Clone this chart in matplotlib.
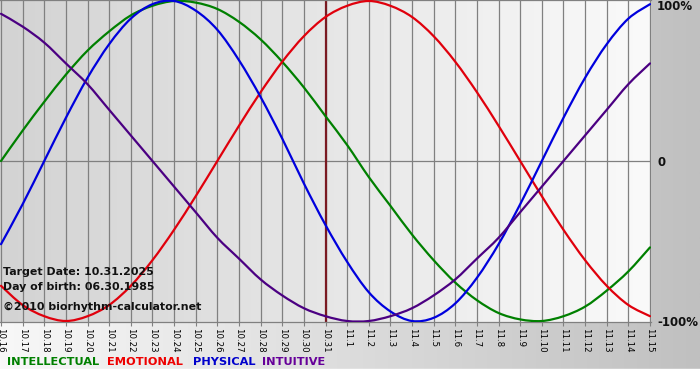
import numpy as np
import matplotlib
matplotlib.use("Agg")
import matplotlib.pyplot as plt
from matplotlib.colors import LinearSegmentedColormap
from matplotlib.path import Path
from matplotlib.patches import PathPatch

# ---- data ----
dates = ["10.16", "10.17", "10.18", "10.19", "10.20", "10.21", "10.22", "10.23",
         "10.24", "10.25", "10.26", "10.27", "10.28", "10.29", "10.30", "10.31",
         "11.1", "11.2", "11.3", "11.4", "11.5", "11.6", "11.7", "11.8", "11.9",
         "11.10", "11.11", "11.12", "11.13", "11.14", "11.15"]

intellectual = [0.00, 0.19, 0.37, 0.54, 0.69, 0.81, 0.91, 0.97, 1.00, 0.99, 0.95,
                0.87, 0.76, 0.62, 0.46, 0.28, 0.10, -0.10, -0.28, -0.46, -0.62,
                -0.76, -0.87, -0.95, -0.99, -1.00, -0.97, -0.91, -0.81, -0.69, -0.54]

emotional = [-0.78, -0.90, -0.97, -1.00, -0.97, -0.90, -0.78, -0.62, -0.43, -0.22,
             0.00, 0.22, 0.43, 0.62, 0.78, 0.90, 0.97, 1.00, 0.97, 0.90, 0.78,
             0.62, 0.43, 0.22, 0.00, -0.22, -0.43, -0.62, -0.78, -0.90, -0.97]

physical = [-0.52, -0.27, 0.00, 0.27, 0.52, 0.73, 0.89, 0.98, 1.00, 0.94, 0.82,
            0.63, 0.40, 0.14, -0.14, -0.40, -0.63, -0.82, -0.94, -1.00, -0.98,
            -0.89, -0.73, -0.52, -0.27, 0.00, 0.27, 0.52, 0.73, 0.89, 0.98]

intuitive = [0.92, 0.84, 0.74, 0.61, 0.48, 0.32, 0.16, 0.00, -0.16, -0.32, -0.48,
             -0.61, -0.74, -0.84, -0.92, -0.97, -1.00, -1.00, -0.97, -0.92, -0.84,
             -0.74, -0.61, -0.48, -0.32, -0.16, 0.00, 0.16, 0.32, 0.48, 0.61]

target_date = "10.31"
series_names = ["INTELLECTUAL", "EMOTIONAL", "PHYSICAL", "INTUITIVE"]
info_lines = ["Target Date: 10.31.2025", "Day of birth: 06.30.1985",
              "\u00a92010 biorhythm-calculator.net"]

# ---- styling ----
W, H = 700, 380
fig = plt.figure(figsize=(W / 100, H / 100), dpi=100)

# figure background: horizontal gradient white -> gray, white strip at bottom
bg = fig.add_axes([0, 0, 1, 1], zorder=0)
bg.set_axis_off()
grad = np.linspace(0, 1, 256)[None, :]
bg_cmap = LinearSegmentedColormap.from_list("bg", ["#f8f8f8", "#c0c0c0"])
bg.imshow(grad, aspect="auto", cmap=bg_cmap, extent=[0, W, 369, 0])
bg.set_xlim(0, W)
bg.set_ylim(H, 0)
bg.axhspan(369, H, color="#ffffff", zorder=2)

# plot axes
ax_top, ax_bot, ax_right = 0, 322, 651
ax = fig.add_axes([0, (H - ax_bot) / H, ax_right / W, (ax_bot - ax_top) / H], zorder=1)
x = np.arange(len(dates))
px_per_day = 649 / (len(dates) - 1)
x0 = -1 / px_per_day
x1 = (len(dates) - 1) + 1 / px_per_day
y0, y1 = -1 - 1 / 160, 1 + 1 / 160

plot_cmap = LinearSegmentedColormap.from_list("pl", ["#d3d3d3", "#fafafa"])
ax.imshow(grad, aspect="auto", cmap=plot_cmap, extent=[x0, x1, -1.1, 1.1],
          zorder=0)
ax.set_xlim(x0, x1)
ax.set_ylim(y0, y1)

for xi in x:
    ax.axvline(xi, color="#808080", lw=0.9, zorder=1)
ax.axhline(0, color="#808080", lw=0.9, zorder=1)

ax.axvline(dates.index(target_date), color="#7a1a22", lw=1.6, zorder=2)


def smooth_path(xs, ys):
    """Smooth curve through the data points (Catmull-Rom as cubic Beziers)."""
    pts = np.column_stack([xs, ys]).astype(float)
    ext = np.vstack([pts[0], pts, pts[-1]])
    verts = [pts[0]]
    codes = [Path.MOVETO]
    for i in range(1, len(ext) - 2):
        p0, p1, p2, p3 = ext[i - 1], ext[i], ext[i + 1], ext[i + 2]
        c1 = p1 + (p2 - p0) / 6.0
        c2 = p2 - (p3 - p1) / 6.0
        verts += [c1, c2, p2]
        codes += [Path.CURVE4] * 3
    return Path(verts, codes)


colors = ["#008000", "#e0000c", "#0000dd", "#4b0082"]
for vals, c in zip([intellectual, emotional, physical, intuitive], colors):
    patch = PathPatch(smooth_path(x, vals), facecolor="none", edgecolor=c,
                      lw=1.6, zorder=3, capstyle="round", joinstyle="round")
    ax.add_patch(patch)

for s in ["left", "right"]:
    ax.spines[s].set_visible(False)
for s in ["bottom", "top"]:
    ax.spines[s].set_color("#808080")
    ax.spines[s].set_linewidth(0.9)
ax.set_yticks([])
ax.set_xticks(x)
ax.set_xticklabels(dates, rotation=270, fontsize=6.2, color="#000000")
ax.tick_params(axis="x", length=3, width=0.8, color="#808080", pad=1.5)


def fx(px):
    return px / W


def fy(py):
    return 1 - py / H


# right labels
for lab, py in [("100%", 7), ("0", 162), ("-100%", 322)]:
    fig.text(fx(657), fy(py), lab, fontsize=8.5, fontweight="bold",
             color="#111111", ha="left", va="center", zorder=5)

# info text
for lab, py in zip(info_lines, [272, 287, 307]):
    fig.text(fx(3), fy(py), lab, fontsize=7.9, fontweight="bold",
             color="#111111", ha="left", va="center", zorder=5)

# legend text
legend_colors = ["#008000", "#ee0000", "#0000cc", "#660099"]
for lab, c, px in zip(series_names, legend_colors, [7, 107, 193, 262]):
    fig.text(fx(px), fy(362), lab, fontsize=8.2, fontweight="bold",
             color=c, ha="left", va="center", zorder=5)

fig.savefig("out.png", dpi=100)
